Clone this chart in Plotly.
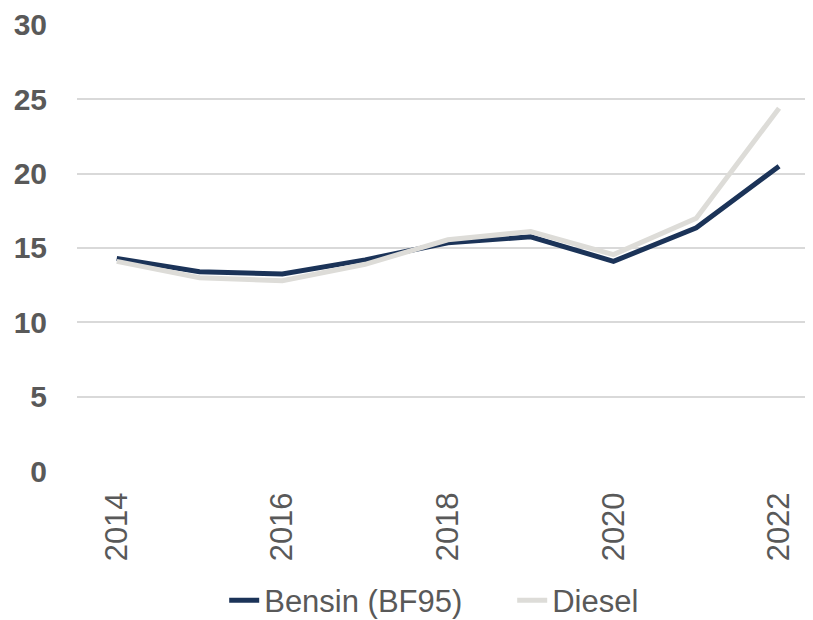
import plotly.graph_objects as go

years = [2014, 2015, 2016, 2017, 2018, 2019, 2020, 2021, 2022]
bensin = [14.3, 13.4, 13.25, 14.2, 15.35, 15.75, 14.1, 16.35, 20.5]
diesel = [14.1, 13.0, 12.8, 13.9, 15.55, 16.1, 14.55, 17.0, 24.4]
x_ticks = [2014, 2016, 2018, 2020, 2022]
y_ticks = [0, 5, 10, 15, 20, 25, 30]

FONT = "Arial, Liberation Sans, sans-serif"

fig = go.Figure()
fig.add_trace(go.Scatter(x=years, y=bensin, mode="lines", name="Bensin (BF95)",
                         line=dict(color="#1B3358", width=5)))
fig.add_trace(go.Scatter(x=years, y=diesel, mode="lines", name="Diesel",
                         line=dict(color="#DDDCD8", width=5)))

# page body has an 8px default margin, so the figure is sized/offset accordingly
fig.update_layout(
    width=805, height=612,
    margin=dict(l=69, r=0, t=16, b=149, autoexpand=False),
    plot_bgcolor="white", paper_bgcolor="white",
    font=dict(family=FONT, color="#595959"),
    showlegend=True,
    legend=dict(orientation="h", x=0.2, xanchor="left", xref="paper",
                y=-0.29, yanchor="middle", font=dict(size=31, color="#595959"),
                itemwidth=30, tracegroupgap=0, bgcolor="rgba(0,0,0,0)",
                entrywidth=243, entrywidthmode="pixels"),
    xaxis=dict(range=[2013.52, 2022.41], tickmode="array", tickvals=x_ticks,
               ticktext=[str(v) for v in x_ticks], tickangle=-90,
               tickfont=dict(size=31, color="#595959"), showgrid=False,
               zeroline=False, showline=False, ticks="outside", ticklen=8,
               tickcolor="rgba(0,0,0,0)", automargin=False),
    yaxis=dict(range=[0, 30.06], tickmode="array", tickvals=y_ticks,
               tickfont=dict(size=30, color="#595959", weight="bold"),
               showgrid=True, gridcolor="#D9D9D9", gridwidth=1.5,
               zeroline=False, showline=False, ticks="outside", ticklen=23,
               tickcolor="rgba(0,0,0,0)", automargin=False),
)

fig.write_html("out.html")
